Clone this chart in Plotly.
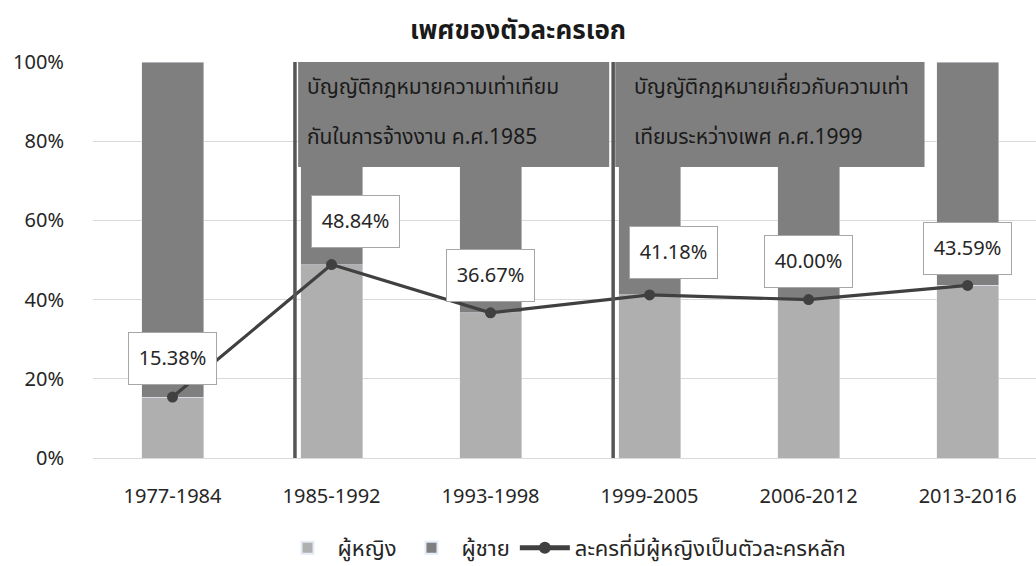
import plotly.graph_objects as go

categories = ["1977-1984", "1985-1992", "1993-1998", "1999-2005", "2006-2012", "2013-2016"]
women = [15.38, 48.84, 36.67, 41.18, 40.00, 43.59]
men = [100 - v for v in women]
lead_female = [15.38, 48.84, 36.67, 41.18, 40.00, 43.59]
label_text = ["15.38%", "48.84%", "36.67%", "41.18%", "40.00%", "43.59%"]
label_xshift = [0, 24, 0, 24, 0, 0]
label_yshift = [39, 43, 37, 42, 38, 37]
y_tickvals = [0, 20, 40, 60, 80, 100]
y_ticktext = ["0%", "20%", "40%", "60%", "80%", "100%"]

title = "เพศของตัวละครเอก"
names = ["ผู้หญิง", "ผู้ชาย", "ละครที่มีผู้หญิงเป็นตัวละครหลัก"]
law_texts = [
    ["บัญญัติกฎหมายความเท่าเทียม", "กันในการจ้างงาน ค.ศ.1985"],
    ["บัญญัติกฎหมายเกี่ยวกับความเท่า", "เทียมระหว่างเพศ ค.ศ.1999"],
]

FONT = "Tahoma, 'Noto Sans Thai', 'Noto Sans', 'DejaVu Sans', sans-serif"
LIGHT = "#afafaf"
DARK = "#7f7f7f"
LINE = "#404040"

fig = go.Figure()
fig.add_trace(go.Bar(x=categories, y=women, name=names[0], marker_color=LIGHT))
fig.add_trace(go.Bar(x=categories, y=men, name=names[1], marker_color=DARK))
fig.add_trace(go.Scatter(x=categories, y=lead_female, name=names[2], mode="lines+markers",
                         line=dict(color=LINE, width=3.2),
                         marker=dict(color=LINE, size=11)))

shapes = []
box_x = [(0.79, 2.746), (2.784, 4.729)]
for x0, x1 in box_x:
    shapes.append(dict(type="rect", xref="x", yref="y", x0=x0, x1=x1, y0=73.5, y1=100,
                       fillcolor=DARK, line=dict(width=0), layer="above"))
for xv in [0.770, 2.771]:
    shapes.append(dict(type="line", xref="x", yref="y", x0=xv, x1=xv, y0=0, y1=100,
                       line=dict(color="#555555", width=3.5), layer="above"))

annotations = []
text_left = [0.83, 2.89]
for i in range(2):
    for j, line in enumerate(law_texts[i]):
        annotations.append(dict(x=text_left[i], y=(458 - 87) / 3.96 - j * (50 / 3.96), xref="x", yref="y",
                                text=line, showarrow=False, xanchor="left", yanchor="middle",
                                font=dict(family=FONT, size=21, color="#1a1a1a")))
for i, c in enumerate(categories):
    annotations.append(dict(x=c, y=lead_female[i], xref="x", yref="y", text=label_text[i],
                            showarrow=False, xshift=label_xshift[i], yshift=label_yshift[i],
                            bgcolor="white", bordercolor="#a6a6a6", borderwidth=1,
                            width=85, height=49,
                            font=dict(family=FONT, size=20, color="#262626")))

fig.update_layout(
    width=1036, height=566,
    barmode="stack", bargap=0.61,
    paper_bgcolor="white", plot_bgcolor="white",
    margin=dict(l=93, r=0, t=62, b=108, autoexpand=False),
    font=dict(family=FONT, size=18, color="#262626"),
    title=dict(text="<b>" + title + "</b>", x=0.5, xanchor="center", y=1 - 30 / 566, yanchor="middle",
               font=dict(family=FONT, size=26, color="#1a1a1a")),
    xaxis=dict(type="category", range=[-0.5, 5.43], showgrid=False, showline=False, automargin=False,
               ticks="", ticklabelstandoff=24, tickfont=dict(size=20, color="#262626")),
    yaxis=dict(range=[0, 100], tickvals=y_tickvals, ticktext=y_ticktext, automargin=False,
               showgrid=True, gridcolor="#d9d9d9", gridwidth=1, zeroline=True,
               zerolinecolor="#d9d9d9", zerolinewidth=1, showline=False,
               ticks="", ticklabelstandoff=28, tickfont=dict(size=20, color="#262626")),
    legend=dict(orientation="h", x=0.5, xanchor="center", y=-0.227, yanchor="middle",
                font=dict(family=FONT, size=22, color="#262626"), traceorder="normal",
                itemwidth=50, itemsizing="constant"),
    shapes=shapes,
    annotations=annotations,
)

fig.write_html("out.html", config={"displayModeBar": False},
               post_script="document.body.style.margin='0';document.body.style.padding='0';")
